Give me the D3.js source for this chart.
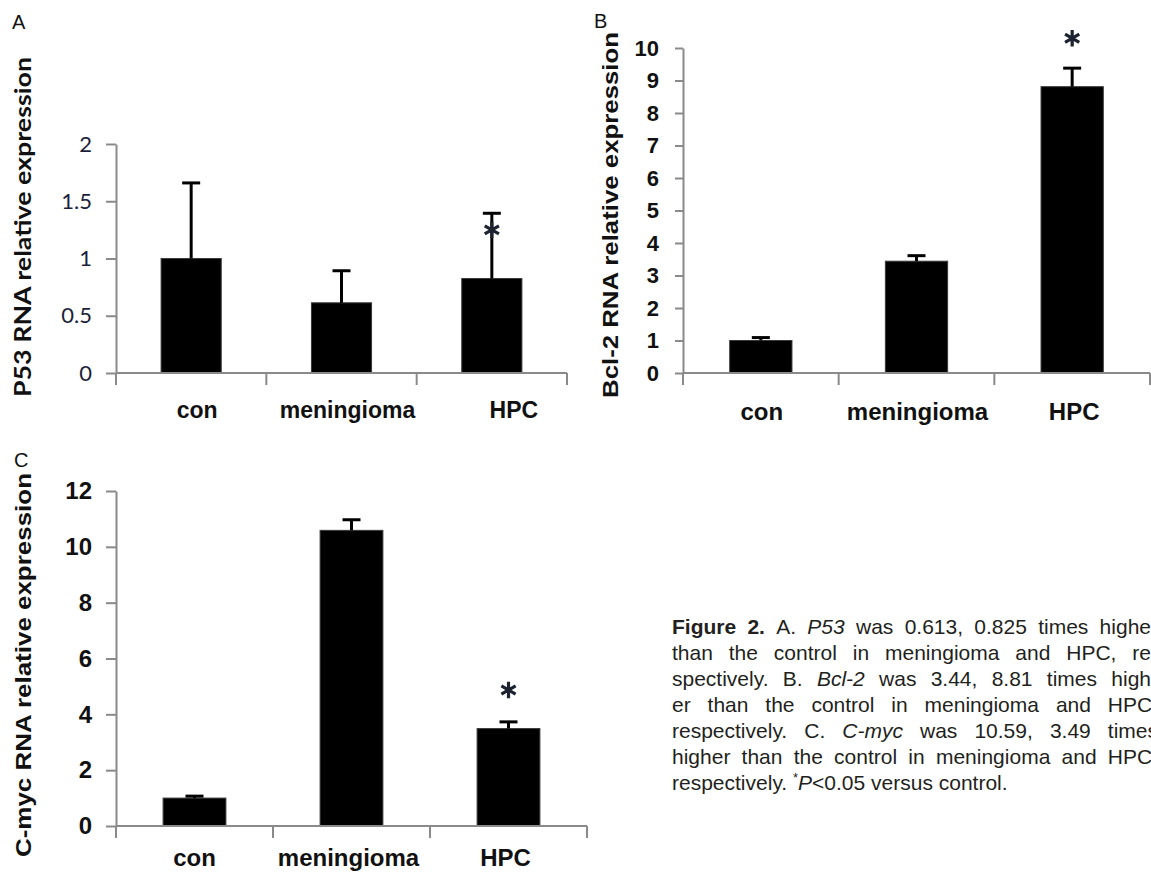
<!DOCTYPE html>
<html>
<head>
<meta charset="utf-8">
<script src="https://cdn.jsdelivr.net/npm/d3@7"></script>
<style>
	body { margin: 0; background: #fff; }
	svg { display: block; }
	.axis path, .axis line { stroke: #8a8a8a; stroke-width: 2; }
	.axis text { fill: #141414; }
</style>
</head>
<body>
<div id="chart"></div>
<script>

// Categories, shared by the three panels.
const categories = ["con", "meningioma", "HPC"];

// A: P53 (mean, upper error)
const p53Values = [1, 0.613, 0.825];
const p53Errors = [0.66, 0.28, 0.57];
const p53Ticks = [0, 0.5, 1, 1.5, 2];
const p53TickLabels = ["0", "0.5", "1", "1.5", "2"];
const p53Star = [null, null, 1.25];

// B: Bcl-2
const bcl2Values = [1, 3.44, 8.81];
const bcl2Errors = [0.09, 0.17, 0.57];
const bcl2Ticks = [0, 1, 2, 3, 4, 5, 6, 7, 8, 9, 10];
const bcl2TickLabels = ["0", "1", "2", "3", "4", "5", "6", "7", "8", "9", "10"];
const bcl2Star = [null, null, 10.3];

// C: C-myc
const cmycValues = [1, 10.59, 3.49];
const cmycErrors = [0.07, 0.38, 0.24];
const cmycTicks = [0, 2, 4, 6, 8, 10, 12];
const cmycTickLabels = ["0", "2", "4", "6", "8", "10", "12"];
const cmycStar = [null, null, 4.87];

// Caption, one array per printed line: [text, style]
const captionLines = [
	[["Figure 2.", "b"], [" A. ", ""], ["P53", "i"], [" was 0.613, 0.825 times higher", ""]],
	[["than the control in meningioma and HPC, re-", ""]],
	[["spectively. B. ", ""], ["Bcl-2", "i"], [" was 3.44, 8.81 times high-", ""]],
	[["er than the control in meningioma and HPC,", ""]],
	[["respectively. C. ", ""], ["C-myc", "i"], [" was 10.59, 3.49 times", ""]],
	[["higher than the control in meningioma and HPC,", ""]],
	[["respectively. ", ""], ["*", "sup"], ["P", "i"], ["<0.05 versus control.", ""]]
];


const width = 1151, height = 873;
const arial = "'Liberation Sans', Arial, sans-serif";

let svg = d3.select("#chart").append("svg")
	.attr("width", width)
	.attr("height", height);


function panel(o) {

	const x = d3.scaleBand()
		.domain(categories)
		.range([o.x0, o.x1])
		.paddingInner(0.6)
		.paddingOuter(0.3);

	const y = d3.scaleLinear()
		.domain([0, d3.max(o.ticks)])
		.range([o.yBottom, o.yTop]);

	const g = svg.append("g");

	// Bars
	g.selectAll("rect.bar")
		.data(o.values)
		.join("rect")
		.attr("class", "bar")
		.attr("x", (d, i) => x(categories[i]))
		.attr("y", d => y(d))
		.attr("width", x.bandwidth())
		.attr("height", d => y(0) - y(d))
		.attr("fill", "#000")
		.attr("stroke", "#3a3a3a")
		.attr("stroke-width", 1);

	// Error bars (upper only)
	const cx = i => x(categories[i]) + x.bandwidth() / 2;
	g.selectAll("line.err")
		.data(o.values)
		.join("line")
		.attr("class", "err")
		.attr("x1", (d, i) => cx(i)).attr("x2", (d, i) => cx(i))
		.attr("y1", d => y(d))
		.attr("y2", (d, i) => y(d + o.errors[i]))
		.attr("stroke", "#000").attr("stroke-width", 3);
	g.selectAll("line.cap")
		.data(o.values)
		.join("line")
		.attr("class", "cap")
		.attr("x1", (d, i) => cx(i) - 9).attr("x2", (d, i) => cx(i) + 9)
		.attr("y1", (d, i) => y(d + o.errors[i]))
		.attr("y2", (d, i) => y(d + o.errors[i]))
		.attr("stroke", "#000").attr("stroke-width", 3);

	// y-axis
	const yAxis = d3.axisLeft(y)
		.tickValues(o.ticks)
		.tickFormat((d, i) => o.tickLabels[i])
		.tickSize(o.tickSize)
		.tickSizeOuter(0)
		.tickPadding(o.tickPad);
	const yEl = g.append("g")
		.attr("class", "axis")
		.attr("transform", "translate(" + o.x0 + ",0)")
		.call(yAxis);
	yEl.selectAll("text")
		.attr("font-family", o.tickFont)
		.attr("font-weight", o.tickWeight)
		.attr("font-size", o.tickSizePx)
		.style("fill", o.tickColor);

	// x-axis line + ticks at category boundaries
	const bounds = categories.map(c => x(c) + x.bandwidth() / 2 - x.step() / 2).concat([o.x1]);
	const xEl = g.append("g").attr("class", "axis");
	xEl.append("line")
		.attr("x1", o.x0).attr("x2", o.x1)
		.attr("y1", y(0)).attr("y2", y(0));
	xEl.selectAll("line.xt")
		.data(bounds)
		.join("line")
		.attr("class", "xt")
		.attr("x1", d => d).attr("x2", d => d)
		.attr("y1", y(0)).attr("y2", y(0) + 12);

	// category labels
	g.selectAll("text.cat")
		.data(categories)
		.join("text")
		.attr("class", "cat")
		.attr("x", (d, i) => x(d) + x.bandwidth() / 2 + o.labelShift[i])
		.attr("y", o.labelY)
		.attr("text-anchor", "middle")
		.attr("font-family", arial)
		.attr("font-weight", "bold")
		.attr("font-size", o.labelSize)
		.attr("fill", "#111")
		.text(d => d);

	// significance stars
	g.selectAll("path.star")
		.data(o.star.map((s, i) => ({ s, i })).filter(d => d.s !== null))
		.join("path")
		.attr("class", "star")
		.attr("transform", d => "translate(" + cx(d.i) + "," + y(d.s) + ")")
		.attr("d", d3.symbol(d3.symbolAsterisk, 190))
		.attr("fill", "none")
		.attr("stroke", "#1d2230")
		.attr("stroke-width", 3.2);

	// y title
	g.append("text")
		.attr("transform", "translate(" + o.titleX + "," + o.titleY + ") rotate(-90)")
		.attr("text-anchor", "middle")
		.attr("font-family", o.titleFont)
		.attr("font-weight", "bold")
		.attr("font-size", 22)
		.attr("textLength", o.titleLen)
		.attr("lengthAdjust", "spacingAndGlyphs")
		.attr("fill", "#111")
		.text(o.title);

	// panel letter
	svg.append("text")
		.attr("x", o.letterX).attr("y", o.letterY)
		.attr("font-family", arial)
		.attr("font-size", 20)
		.attr("fill", "#111")
		.text(o.letter);
}


panel({
	letter: "A", letterX: 12, letterY: 29,
	values: p53Values, errors: p53Errors, star: p53Star,
	ticks: p53Ticks, tickLabels: p53TickLabels,
	x0: 116, x1: 567, yBottom: 373, yTop: 144,
	tickSize: 10, tickPad: 14, tickFont: "Lato, sans-serif", tickWeight: "normal", tickSizePx: 22, tickColor: "#1c1f3a",
	labelY: 418, labelSize: 23, labelShift: [6, 6, 22],
	title: "P53 RNA relative expression", titleFont: "Lato, sans-serif",
	titleX: 31, titleY: 227, titleLen: 340
});

panel({
	letter: "B", letterX: 594, letterY: 28,
	values: bcl2Values, errors: bcl2Errors, star: bcl2Star,
	ticks: bcl2Ticks, tickLabels: bcl2TickLabels,
	x0: 683, x1: 1150, yBottom: 373, yTop: 48,
	tickSize: 8, tickPad: 16, tickFont: arial, tickWeight: "bold", tickSizePx: 22, tickColor: "#111",
	labelY: 420, labelSize: 24, labelShift: [1, 1, 2],
	title: "Bcl-2 RNA relative expression", titleFont: arial,
	titleX: 618, titleY: 215, titleLen: 366
});

panel({
	letter: "C", letterX: 14, letterY: 467,
	values: cmycValues, errors: cmycErrors, star: cmycStar,
	ticks: cmycTicks, tickLabels: cmycTickLabels,
	x0: 116, x1: 587, yBottom: 826, yTop: 491,
	tickSize: 10, tickPad: 14, tickFont: arial, tickWeight: "bold", tickSizePx: 24, tickColor: "#111",
	labelY: 866, labelSize: 24, labelShift: [0, -3, -3],
	title: "C-myc RNA relative expression", titleFont: arial,
	titleX: 31, titleY: 665, titleLen: 384
});


// Caption: justified block, last line left aligned.
const capLeft = 672, capRight = 1158, capTop = 634, capLead = 26, capSize = 21;

const cap = svg.append("g")
	.attr("font-family", arial)
	.attr("font-size", capSize)
	.attr("fill", "#231f20");

function toWords(line) {
	let words = [], cur = [];
	line.forEach(([txt, st]) => {
		txt.split(" ").forEach((part, j) => {
			if (j > 0 && cur.length) { words.push(cur); cur = []; }
			if (part !== "") cur.push([part, st]);
		});
	});
	if (cur.length) words.push(cur);
	return words;
}

captionLines.forEach((line, li) => {
	const words = toWords(line);
	const yy = capTop + li * capLead;
	const nodes = words.map(w => {
		const t = cap.append("text").attr("y", yy);
		let raised = false;
		w.forEach(([s, st]) => {
			const ts = t.append("tspan").text(s);
			if (st === "b") ts.attr("font-weight", "bold");
			if (st === "i") ts.attr("font-style", "italic");
			if (st === "sup") { ts.attr("font-size", 13).attr("dy", -8); raised = true; }
			else if (raised) { ts.attr("dy", 8); raised = false; }
		});
		return t;
	});
	const widths = nodes.map(n => n.node().getComputedTextLength());
	const last = li === captionLines.length - 1;
	const gap = last ? capSize * 0.278
		: (capRight - capLeft - d3.sum(widths)) / (words.length - 1);
	let xx = capLeft;
	nodes.forEach((n, i) => {
		n.attr("x", xx);
		xx += widths[i] + gap;
	});
});

</script>
</body>
</html>
